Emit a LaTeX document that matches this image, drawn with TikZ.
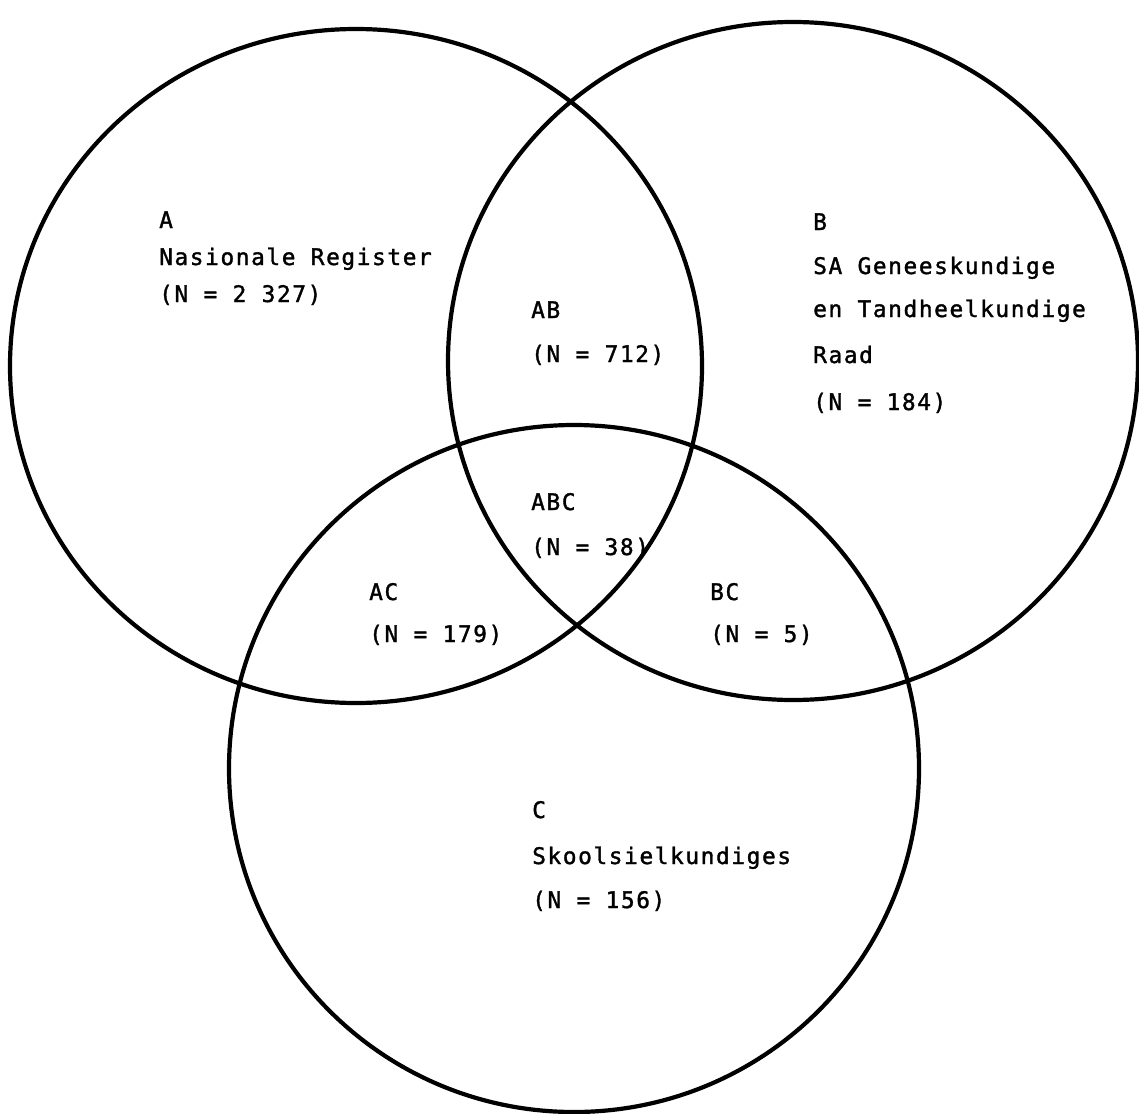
\documentclass[tikz,border=0pt]{standalone}
\usepackage{fontspec}
\newfontfamily\vennmono[LetterSpace=7.0,FakeBold=1.5]{DejaVu Sans Mono}
\tikzset{
  rand/.style={line width=4.2pt},
  lbl/.style={anchor=base west, inner sep=0pt,
    font=\vennmono\fontsize{22.8}{27}\selectfont},
}
\begin{document}
\begin{tikzpicture}[x=1pt,y=-1pt]
    \useasboundingbox (0,0) rectangle (1139,1113);
    % middelpunte
    \path (356,366) coordinate (mA);
    \path (793,361) coordinate (mB);
    \path (574,768.5) coordinate (mC);
    % sirkels
    \draw[rand] (mA) ellipse [x radius=346pt, y radius=337pt];
    \draw[rand] (mB) ellipse [x radius=345pt, y radius=339pt];
    \draw[rand] (mC) ellipse [x radius=345pt, y radius=343.5pt];
    % A
    \node[lbl] (a1) at (159,228) {A};
    \node[lbl] (a2) at (159,265) {Nasionale Register};
    \node[lbl] (a3) at (159,302) {(N = 2 327)};
    % B
    \node[lbl] (b1) at (813,230) {B};
    \node[lbl] (b2) at (813,274) {SA Geneeskundige};
    \node[lbl] (b3) at (813,317) {en Tandheelkundige};
    \node[lbl] (b4) at (813,363) {Raad};
    \node[lbl] (b5) at (813,410) {(N = 184)};
    % AB
    \node[lbl] (ab1) at (531,318) {AB};
    \node[lbl] (ab2) at (531,362) {(N = 712)};
    % ABC
    \node[lbl] (abc1) at (531,510) {ABC};
    \node[lbl] (abc2) at (531,555) {(N = 38)};
    % AC
    \node[lbl] (ac1) at (369,600) {AC};
    \node[lbl] (ac2) at (369,642) {(N = 179)};
    % BC
    \node[lbl] (bc1) at (710,600) {BC};
    \node[lbl] (bc2) at (710,642) {(N = 5)};
    % C
    \node[lbl] (c1) at (532,818) {C};
    \node[lbl] (c2) at (532,864) {Skoolsielkundiges};
    \node[lbl] (c3) at (532,908) {(N = 156)};
\end{tikzpicture}
\end{document}
